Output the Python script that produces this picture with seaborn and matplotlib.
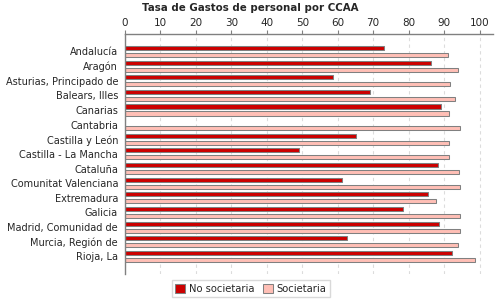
import pandas as pd
import matplotlib.pyplot as plt
import seaborn as sns

regions = ["Andalucía", "Aragón", "Asturias, Principado de", "Balears, Illes",
           "Canarias", "Cantabria", "Castilla y León", "Castilla - La Mancha",
           "Cataluña", "Comunitat Valenciana", "Extremadura", "Galicia",
           "Madrid, Comunidad de", "Murcia, Región de", "Rioja, La"]
no_societaria = [73.0, 86.2, 58.6, 69.0, 89.0, 0.0, 65.1, 49.0,
                 88.2, 61.1, 85.4, 78.3, 88.5, 62.5, 92.1]
societaria = [91.0, 93.8, 91.8, 93.0, 91.3, 94.4, 91.5, 91.3,
              94.1, 94.4, 87.6, 94.6, 94.4, 93.8, 98.6]
series = ["No societaria", "Societaria"]
colors = ["#CC0000", "#FFBFB6"]

df = pd.DataFrame({
    "region": regions * 2,
    "value": no_societaria + societaria,
    "tipo": [series[0]] * len(regions) + [series[1]] * len(regions),
})

sns.set_style("white")
plt.rcParams["font.family"] = ["DejaVu Sans"]

fig = plt.figure(figsize=(5, 3), dpi=100)
ax = fig.add_axes([0.25, 0.087, 0.736, 0.8])

sns.barplot(data=df, y="region", x="value", hue="tipo", orient="h",
            palette=colors, hue_order=series, order=regions,
            width=0.96, gap=0.42, edgecolor="#808080", linewidth=0.75,
            saturation=1, ax=ax, legend=True)

ax.set_xlim(0, 103.8)
ax.set_ylim(15.2, -1.2)
ax.set_xticks(range(0, 101, 10))
ax.xaxis.tick_top()
ax.tick_params(axis="x", length=3, color="#808080", labelsize=7.5, pad=1)
ax.tick_params(axis="y", length=2, color="#808080", labelsize=7.0, pad=3)
ax.set_xlabel("")
ax.set_ylabel("")
ax.grid(axis="x", color="#dcdcdc", linestyle=(0, (3, 3)), linewidth=0.8)
ax.set_axisbelow(True)

for side in ["right", "bottom"]:
    ax.spines[side].set_visible(False)
for side in ["top", "left"]:
    ax.spines[side].set_color("#808080")
    ax.spines[side].set_linewidth(1)

fig.suptitle("Tasa de Gastos de personal por CCAA", x=0.5, y=0.99,
             fontsize=7.4, fontweight="bold")

handles, labels = ax.get_legend_handles_labels()
ax.legend(handles, labels, loc="upper center",
          bbox_to_anchor=(0.502, 0.07), bbox_transform=fig.transFigure,
          ncol=2, fontsize=7.2, frameon=True,
          edgecolor="#d0d0d0", fancybox=False, handlelength=1.0, handleheight=1.0,
          handletextpad=0.4, columnspacing=0.8, borderpad=0.35)
ax.get_legend().set_bbox_to_anchor((0.502, 0.083), transform=fig.transFigure)

fig.savefig("out.png", dpi=100)
